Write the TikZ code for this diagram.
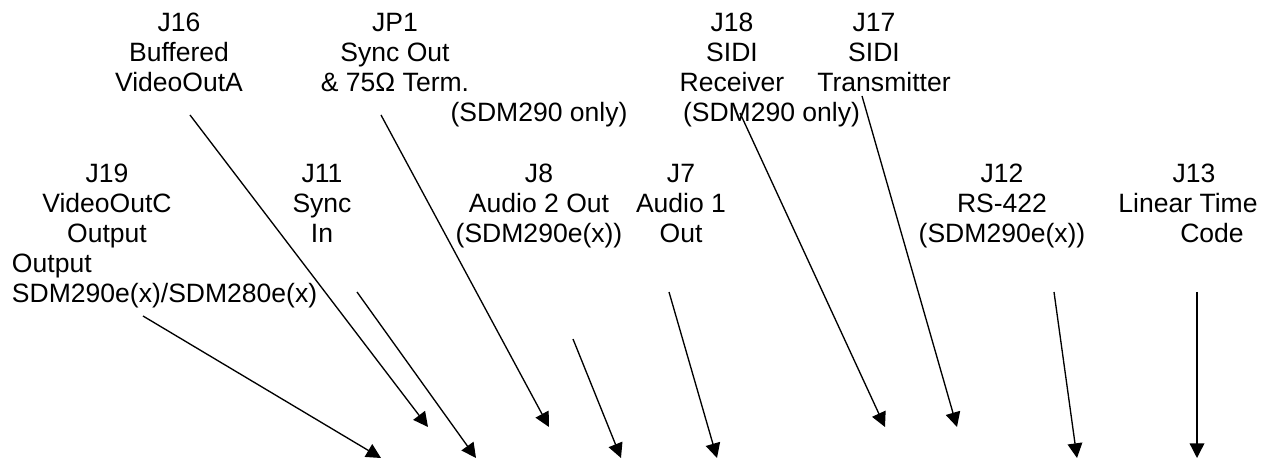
\documentclass[tikz,border=0pt]{standalone}
\usepackage{fontspec}
\setmainfont{Liberation Sans}
\usetikzlibrary{arrows.meta}
\begin{document}
\begin{tikzpicture}[x=0.75pt,y=-0.75pt,
  lbl/.style={inner sep=0pt,outer sep=0pt,align=center,anchor=base,
    font=\fontsize{19.9}{22.5}\selectfont},
  lbll/.style={lbl,align=left,anchor=base west},
  conn/.style={line width=1pt,-{Triangle[length=11pt,width=11pt]}}]
\useasboundingbox (0,0) rectangle (1270,459);
% labels (anchor = baseline of the last line)
\node[lbl] (j16) at (179,92) {J16\\Buffered\\VideoOutA};
\node[lbl] (jp1) at (395,92) {JP1\\Sync Out\\\& 75Ω Term.};
\node[lbl] (jp1n) at (539,122) {(SDM290 only)};
\node[lbl] (j18) at (732,92) {J18\\SIDI\\Receiver};
\node[lbll] (j18n) at (683,122) {(SDM290 only)};
\node[lbl] (j17) at (874,92) {J17\\SIDI\\\hspace*{15pt}Transmitter};
\node[lbl] (j19) at (107,243) {J19\\VideoOutC\\Output};
\node[lbll] (j19n) at (12,303) {Output\\SDM290e(x)/SDM280e(x)};
\node[lbl] (j11) at (322,243) {J11\\Sync\\In};
\node[lbl] (j8) at (539,243) {J8\\Audio 2 Out\\(SDM290e(x))};
\node[lbl] (j7) at (681,243) {J7\\Audio 1\\Out};
\node[lbl] (j12) at (1002,243) {J12\\RS-422\\(SDM290e(x))};
\node[lbl] (j13) at (1188,243) {\hspace*{9pt}J13\\Linear Time\\\hspace*{36pt}Code};
% arrow start and end points
\coordinate (s19) at (143,316);  \coordinate (e19) at (381,458);
\coordinate (s16) at (190,115);  \coordinate (e16) at (428,427);
\coordinate (s11) at (357,292);  \coordinate (e11) at (476,458);
\coordinate (sp1) at (381,115);  \coordinate (ep1) at (549,427);
\coordinate (s8)  at (573,339);  \coordinate (e8)  at (621,458);
\coordinate (s7)  at (669,292);  \coordinate (e7)  at (717,458);
\coordinate (s18) at (740,113);  \coordinate (e18) at (885,427);
\coordinate (s17) at (862,96);   \coordinate (e17) at (957,427);
\coordinate (s12) at (1054,292); \coordinate (e12) at (1077,458);
\coordinate (s13) at (1197,292); \coordinate (e13) at (1197,458);
% connectors
\draw[conn] (s19) -- (e19);
\draw[conn] (s16) -- (e16);
\draw[conn] (s11) -- (e11);
\draw[conn] (sp1) -- (ep1);
\draw[conn] (s8) -- (e8);
\draw[conn] (s7) -- (e7);
\draw[conn] (s18) -- (e18);
\draw[conn] (s17) -- (e17);
\draw[conn] (s12) -- (e12);
\draw[conn] (s13) -- (e13);
\end{tikzpicture}
\end{document}
